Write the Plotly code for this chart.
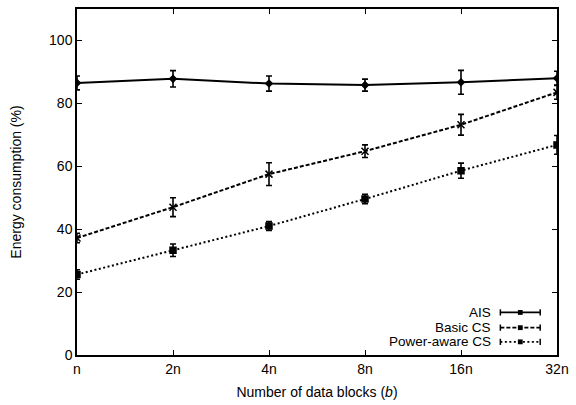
import plotly.graph_objects as go

# Block counts on the x axis (categorical, evenly spaced)
blocks = ["n", "2n", "4n", "8n", "16n", "32n"]

# Energy consumption (%) and error half-widths per scheme
ais = [86.5, 87.8, 86.3, 85.8, 86.7, 88.0]
ais_err = [2.2, 2.6, 2.4, 1.9, 3.8, 2.2]

basic_cs = [37.2, 47.0, 57.5, 64.8, 73.2, 83.5]
basic_cs_err = [1.5, 3.0, 3.6, 2.0, 3.3, 2.2]

power_cs = [25.6, 33.3, 41.0, 49.6, 58.6, 66.8]
power_cs_err = [1.5, 2.0, 1.4, 1.5, 2.4, 3.0]

series = [
    ("AIS", ais, ais_err, "solid", "diamond", 5),
    ("Basic CS", basic_cs, basic_cs_err, "4px,2px", "x-thin-open", 7),
    ("Power-aware CS", power_cs, power_cs_err, "2px,2.5px", "square", 6),
]

FONT = "Liberation Sans, Arial, sans-serif"
FS = 14
fig = go.Figure()
xs = list(range(len(blocks)))

for name, vals, errs, dash, sym, msize in series:
    fig.add_trace(go.Scatter(
        x=xs, y=vals, name=name, mode="lines+markers",
        line=dict(color="black", width=2, dash=dash),
        marker=dict(symbol=sym, size=msize, color="black",
                    line=dict(color="black", width=1.5)),
        error_y=dict(type="data", array=errs, visible=True,
                     color="black", thickness=1.6, width=3),
        showlegend=False,
    ))

# Key in the lower-right corner: label on the left, line sample on the right
key_rows = [0.123, 0.079, 0.038]
x_text = 0.866
x0, x1 = 0.882, 0.965
for (name, vals, errs, dash, sym, msize), yp in zip(series, key_rows):
    fig.add_annotation(xref="paper", yref="paper", x=x_text, y=yp,
                       text=name, showarrow=False, xanchor="right",
                       yanchor="middle",
                       font=dict(family=FONT, size=FS - 0.5, color="black"))
    fig.add_shape(type="line", xref="paper", yref="paper",
                  x0=x0, x1=x1, y0=yp, y1=yp,
                  line=dict(color="black", width=1.8, dash=dash))
    for xe in (x0, x1):
        fig.add_shape(type="line", xref="paper", yref="paper",
                      x0=xe, x1=xe, y0=yp - 0.009, y1=yp + 0.009,
                      line=dict(color="black", width=1.5))
    xm = (x0 + x1) / 2
    fig.add_shape(type="rect", xref="paper", yref="paper",
                  x0=xm - 0.005, x1=xm + 0.005,
                  y0=yp - 0.007, y1=yp + 0.007,
                  fillcolor="black", line=dict(width=0))

axis_common = dict(
    showline=True, linecolor="black", linewidth=1.5, mirror="ticks",
    ticks="inside", ticklen=5, tickcolor="black", tickwidth=1,
    showgrid=False, zeroline=False,
    tickfont=dict(family=FONT, size=FS, color="black"),
)

fig.update_xaxes(
    range=[0, 5], tickmode="array", tickvals=xs, ticktext=blocks,
    title=dict(text="Number of data blocks (<i>b</i>)",
               font=dict(family=FONT, size=FS, color="black"),
               standoff=12),
    **axis_common,
)
fig.update_yaxes(
    range=[0, 110], tickvals=[0, 20, 40, 60, 80, 100],
    title=dict(text="Energy consumption (%)",
               font=dict(family=FONT, size=FS, color="black"),
               standoff=24),
    **axis_common,
)

fig.update_layout(
    width=576, height=405,
    margin=dict(l=77, r=13, t=7, b=49),
    paper_bgcolor="white", plot_bgcolor="white",
    font=dict(family=FONT, size=FS, color="black"),
)

fig.write_html("out.html")
